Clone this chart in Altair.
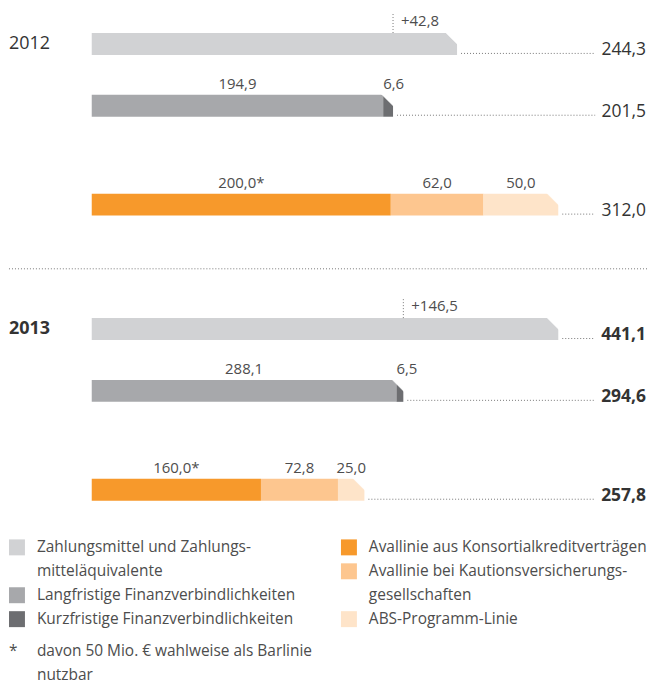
import altair as alt
import pandas as pd

# ---------------- data ----------------
YEARS = ["2012", "2013"]
CASH = [244.3, 441.1]
CASH_SURPLUS = [42.8, 146.5]
LONG_TERM = [194.9, 288.1]
SHORT_TERM = [6.6, 6.5]
DEBT_TOTAL = [201.5, 294.6]
AVAL_KONSORTIAL = [200.0, 160.0]
AVAL_KAUTION = [62.0, 72.8]
ABS_LINE = [50.0, 25.0]
GUAR_TOTAL = [312.0, 257.8]

SERIES_KEYS = ["cash", "long", "short", "konsortial", "kaution", "abs"]
SERIES_LABELS = [
    "Zahlungsmittel und Zahlungs-\nmitteläquivalente",
    "Langfristige Finanzverbindlichkeiten",
    "Kurzfristige Finanzverbindlichkeiten",
    "Avallinie aus Konsortialkreditverträgen",
    "Avallinie bei Kautionsversicherungs-\ngesellschaften",
    "ABS-Programm-Linie",
]
LEGEND_COLUMNS = [["cash", "long", "short"], ["konsortial", "kaution", "abs"]]
FOOTNOTE_MARK = "*"
FOOTNOTE = "davon 50 Mio. € wahlweise als Barlinie\nnutzbar"

# ---------------- style ----------------
COLORS = ["#d1d2d4", "#a7a8ab", "#6d6e71", "#f7992b", "#fdc68f", "#fee4c9"]
FONT = "Open Sans"
TEXT_DARK = "#333333"
TEXT_MID = "#4d4d4d"
DOT = "#777777"
W = 640
BAR_RANGE = [83, 551]
LEADER_END = 588
STEP = 12.4            # px per layout slot
ROW_SLOT = {"cash": 0, "debt": 5, "guar": 13}
SEPARATOR_SLOT = 18.19
TOP_SLOTS = 35 / STEP
PANEL_H = [286, 242]
LEGEND_LINE = 24
LEGEND_H = 152
LEGEND_TOP_LINE = -0.5
FOOT_GAP = 0.33


def fmt(v):
    return f"{v:.1f}".replace(".", ",")


color_scale = alt.Scale(domain=SERIES_KEYS, range=COLORS)


def year_panel(i):
    rows = {
        "cash": [("cash", CASH[i], "")],
        "debt": [("long", LONG_TERM[i], fmt(LONG_TERM[i])),
                 ("short", SHORT_TERM[i], fmt(SHORT_TERM[i]))],
        "guar": [("konsortial", AVAL_KONSORTIAL[i], fmt(AVAL_KONSORTIAL[i]) + "*"),
                 ("kaution", AVAL_KAUTION[i], fmt(AVAL_KAUTION[i])),
                 ("abs", ABS_LINE[i], fmt(ABS_LINE[i]))],
    }
    totals = {"cash": CASH[i], "debt": DEBT_TOTAL[i], "guar": GUAR_TOTAL[i]}
    seg_records, tot_records = [], []
    for row, segs in rows.items():
        start = 0.0
        for key, val, lab in segs:
            seg_records.append(dict(row=row, slot=ROW_SLOT[row], series=key,
                                    start=start, end=start + val,
                                    mid=start + val / 2, label=lab))
            start += val
        tot_records.append(dict(row=row, slot=ROW_SLOT[row], total=totals[row],
                                label=fmt(totals[row])))
    seg = pd.DataFrame(seg_records)
    tot = pd.DataFrame(tot_records)
    cmp_df = pd.DataFrame([dict(slot=ROW_SLOT["cash"], x=DEBT_TOTAL[i],
                                label="+" + fmt(CASH_SURPLUS[i]))])
    year_df = pd.DataFrame([dict(slot=ROW_SLOT["cash"], label=YEARS[i])])

    pmax = max(totals.values())
    xs = alt.Scale(domain=[0, pmax], range=BAR_RANGE, nice=False, zero=True,
                   padding=0)
    h = PANEL_H[i]
    ys = alt.Scale(domain=[-TOP_SLOTS, -TOP_SLOTS + h / STEP], reverse=True,
                   nice=False, zero=False, padding=0)
    X = lambda f: alt.X(f, type="quantitative", scale=xs, axis=None)
    Y = alt.Y("slot:Q", scale=ys, axis=None)
    bold = "bold" if i == 1 else "normal"

    bars = alt.Chart(seg).mark_bar(orient="horizontal", size=22).encode(
        x=X("start"), x2="end", y=Y,
        color=alt.Color("series:N", scale=color_scale, legend=None))
    chamfer = alt.Chart(tot).mark_point(
        shape="M -1.1 -1.1 L 0.3 -1.1 L 0.3 0.3 Z", size=484, filled=True,
        fill="white", stroke="white", strokeWidth=0.5, opacity=1).encode(
        x=X("total"), y=Y)
    seg_lab = alt.Chart(seg).transform_filter(
        "datum.label != '' && datum.series != 'short'").mark_text(
        align="center", baseline="alphabetic", dy=-17, font=FONT, fontSize=15,
        color=TEXT_MID).encode(x=X("mid"), y=Y, text="label:N")
    short_lab = alt.Chart(seg).transform_filter(
        "datum.series == 'short'").mark_text(
        align="left", baseline="alphabetic", dy=-17, font=FONT, fontSize=15,
        color=TEXT_MID).encode(x=X("start"), y=Y, text="label:N")
    leaders = alt.Chart(tot).mark_rule(
        strokeDash=[1, 2], color=DOT, strokeWidth=1, xOffset=4, yOffset=9.5,
        y2Offset=9.5).encode(x=X("total"), x2=alt.value(LEADER_END), y=Y,
                             y2="slot:Q")
    tot_lab = alt.Chart(tot).mark_text(
        align="right", baseline="alphabetic", dy=11, font=FONT, fontSize=17.5,
        fontWeight=bold, color=TEXT_DARK).encode(
        x=alt.value(W - 1), y=Y, text="label:N")
    cmp_rule = alt.Chart(cmp_df).mark_rule(
        strokeDash=[1, 2], color=DOT, strokeWidth=1, yOffset=-30,
        y2Offset=-11).encode(x=X("x"), y=Y, y2="slot:Q")
    cmp_lab = alt.Chart(cmp_df).mark_text(
        align="left", baseline="alphabetic", dx=8, dy=-18, font=FONT,
        fontSize=15, color=TEXT_MID).encode(x=X("x"), y=Y, text="label:N")
    year_lab = alt.Chart(year_df).mark_text(
        align="left", baseline="alphabetic", dy=5, font=FONT, fontSize=18,
        fontWeight=bold, color=TEXT_DARK).encode(
        x=alt.value(0), y=Y, text="label:N")
    layers = [bars, chamfer, leaders, seg_lab, short_lab, tot_lab, cmp_rule,
              cmp_lab, year_lab]
    if i == 0:
        sep = alt.Chart(year_df).mark_rule(
            strokeDash=[1, 2], color=DOT, strokeWidth=1).encode(
            x=alt.value(0), x2=alt.value(W),
            y=alt.Y(datum=SEPARATOR_SLOT, scale=ys, axis=None))
        layers.append(sep)
    return alt.layer(*layers).properties(width=W, height=h)


# ---------------- legend panel ----------------
sw_records, line_records = [], []
foot_start = 0
for col, keys in enumerate(LEGEND_COLUMNS):
    line = 0
    for key in keys:
        lab = SERIES_LABELS[SERIES_KEYS.index(key)]
        sw_records.append(dict(col=col, line=line, series=key))
        for part in lab.split("\n"):
            line_records.append(dict(col=col, line=line, text=part))
            line += 1
    if col == 0:
        foot_start = line + FOOT_GAP
for k, part in enumerate(FOOTNOTE.split("\n")):
    line_records.append(dict(col=0, line=foot_start + k, text=part))
star_df = pd.DataFrame([dict(col=0, line=foot_start, text=FOOTNOTE_MARK)])
sw_df = pd.DataFrame(sw_records)
ln_df = pd.DataFrame(line_records)

lx = alt.Scale(domain=[0, 1], range=[8, 341], nice=False, zero=False, padding=0)
ly = alt.Scale(domain=[LEGEND_TOP_LINE, LEGEND_TOP_LINE + LEGEND_H / LEGEND_LINE],
               reverse=True, nice=False, zero=False, padding=0)
LX = alt.X("col:Q", scale=lx, axis=None)
LY = alt.Y("line:Q", scale=ly, axis=None)

swatches = alt.Chart(sw_df).mark_square(size=256, opacity=1).encode(
    x=LX, y=LY, color=alt.Color("series:N", scale=color_scale, legend=None))
texts = alt.Chart(ln_df).mark_text(
    align="left", baseline="middle", dx=20, font=FONT, fontSize=15.5,
    color=TEXT_MID).encode(x=LX, y=LY, text="text:N")
star = alt.Chart(star_df).mark_text(
    align="left", baseline="middle", dx=-8, font=FONT, fontSize=15.5,
    color=TEXT_MID).encode(x=LX, y=LY, text="text:N")
legend = alt.layer(swatches, texts, star).properties(width=W, height=LEGEND_H)

chart = alt.vconcat(year_panel(0), year_panel(1), legend, spacing=0).properties(
    padding=0, bounds="flush").configure_view(stroke=None)

chart.save("out.html", embed_options={"renderer": "svg", "actions": False})
